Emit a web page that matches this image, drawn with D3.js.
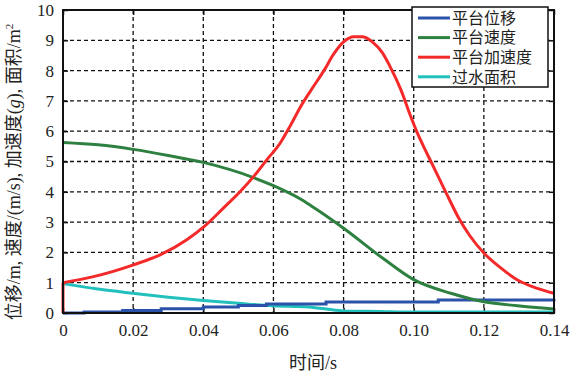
<!DOCTYPE html>
<html>
<head>
<meta charset="utf-8">
<script src="https://cdn.jsdelivr.net/npm/d3@7"></script>
<style>
  body { margin: 0; background: #fff; }
  text { font-family: "Liberation Serif", "Times New Roman", serif; fill: #222; }
  .cjk { font-family: "Liberation Serif", "Times New Roman", "Noto Sans CJK SC", serif; }
</style>
</head>
<body>
<div id="theGraph"></div>
<script>
const width = 571, height = 377,
    margin = {left: 63, top: 10, right: 17, bottom: 64},
    contentWidth = width - margin.left - margin.right,
    contentHeight = height - margin.top - margin.bottom;
const serif = '"Liberation Serif", "Times New Roman", serif';

// data
const xTicks = [0, 0.02, 0.04, 0.06, 0.08, 0.10, 0.12, 0.14];
const xTickLabels = ["0", "0.02", "0.04", "0.06", "0.08", "0.10", "0.12", "0.14"];
const yTicks = [0, 1, 2, 3, 4, 5, 6, 7, 8, 9, 10];

const dispT = [0, 0.006, 0.017, 0.028, 0.04, 0.05, 0.058, 0.075, 0.107, 0.14];
const dispV = [0, 0.03, 0.08, 0.14, 0.2, 0.25, 0.3, 0.36, 0.43, 0.45];

const velT = [0, 0.01, 0.02, 0.03, 0.04, 0.0543, 0.06, 0.0677, 0.0706, 0.08, 0.0915, 0.10, 0.1106, 0.12, 0.1296, 0.14];
const velV = [5.63, 5.55, 5.4, 5.2, 4.97, 4.47, 4.2, 3.76, 3.55, 2.8, 1.78, 1.1, 0.65, 0.37, 0.24, 0.13];

// first two points: the jump at t = 0
const accT = [0, 0, 0.0087, 0.0201, 0.0277, 0.0353, 0.0403, 0.0458, 0.0506, 0.0544, 0.0582, 0.062, 0.0649, 0.0677, 0.0715, 0.0744, 0.0772, 0.08, 0.0829, 0.0853, 0.0882, 0.091, 0.0934, 0.0963, 0.0991, 0.101, 0.103, 0.1049, 0.1091, 0.1129, 0.116, 0.12, 0.1249, 0.1296, 0.135, 0.14];
const accV = [0, 1.0, 1.2, 1.59, 1.92, 2.42, 2.86, 3.47, 4.02, 4.51, 5.07, 5.62, 6.2, 6.8, 7.49, 8.0, 8.55, 8.95, 9.12, 9.12, 8.95, 8.6, 8.1, 7.38, 6.5, 5.95, 5.45, 5.0, 4.0, 3.12, 2.55, 1.98, 1.48, 1.09, 0.82, 0.65];

const areaT = [0, 0.01, 0.02, 0.03, 0.04, 0.05, 0.06, 0.07, 0.08, 0.09, 0.10, 0.14];
const areaV = [0.97, 0.79, 0.65, 0.52, 0.41, 0.32, 0.24, 0.2, 0.07, 0.05, 0.03, 0.03];

const seriesNames = ["平台位移", "平台速度", "平台加速度", "过水面积"];
const seriesColors = ["#2a52a8", "#2e8040", "#f42a2a", "#22c0bc"];

const svg = d3.select("#theGraph").append("svg").attr("width", width).attr("height", height);
const maing = svg.append("g").attr("transform", `translate(${margin.left}, ${margin.top})`);

const xScale = d3.scaleLinear().domain([0, 0.14]).range([0, contentWidth]);
const yScale = d3.scaleLinear().domain([0, 10]).range([contentHeight, 0]);

//grid
maing.selectAll(".vgrid").data(xTicks.slice(1, -1)).enter().append("line")
    .attr("x1", d=>xScale(d)).attr("x2", d=>xScale(d)).attr("y1", 0).attr("y2", contentHeight)
    .attr("stroke", "#111").attr("stroke-width", 1.3).attr("stroke-dasharray", "4,3");
maing.selectAll(".hgrid").data(yTicks.slice(1, -1)).enter().append("line")
    .attr("y1", d=>yScale(d)).attr("y2", d=>yScale(d)).attr("x1", 0).attr("x2", contentWidth)
    .attr("stroke", "#111").attr("stroke-width", 1.3).attr("stroke-dasharray", "4,3");

//axes with inward ticks
const xAxis = maing.append("g").attr("transform", `translate(0, ${contentHeight})`)
    .call(d3.axisBottom(xScale).tickValues(xTicks).tickFormat((d, i)=>xTickLabels[i]).tickSize(-5).tickPadding(11));
const xTop = maing.append("g").call(d3.axisTop(xScale).tickValues(xTicks).tickFormat("").tickSize(-5));
const yAxis = maing.append("g")
    .call(d3.axisLeft(yScale).tickValues(yTicks).tickSize(-5).tickPadding(9));
const yRight = maing.append("g").attr("transform", `translate(${contentWidth}, 0)`)
    .call(d3.axisRight(yScale).tickValues(yTicks).tickFormat("").tickSize(-5));
[xAxis, xTop, yAxis, yRight].forEach(a=>{
    a.attr("font-family", serif);
    a.select(".domain").remove();
    a.selectAll("line").attr("stroke", "#111").attr("stroke-width", 1.5);
    a.selectAll("text").style("font-size", "17px").style("font-family", serif).attr("fill", "#222");
});

//curves
const pts = (ts, vs)=>ts.map((t, i)=>[t, vs[i]]);
const lineOf = curve=>d3.line().x(d=>xScale(d[0])).y(d=>yScale(d[1])).curve(curve);
const paths = [
    {d: pts(areaT, areaV), curve: d3.curveMonotoneX, c: 3},
    {d: pts(dispT, dispV), curve: d3.curveStepAfter, c: 0},
    {d: pts(velT, velV), curve: d3.curveMonotoneX, c: 1},
    {d: pts(accT, accV).slice(0, 2), curve: d3.curveLinear, c: 2},
    {d: pts(accT, accV).slice(1), curve: d3.curveMonotoneX, c: 2}
];
paths.forEach(p=>{
    maing.append("path").datum(p.d).attr("d", lineOf(p.curve))
        .attr("fill", "none").attr("stroke", seriesColors[p.c]).attr("stroke-width", 3);
});

//frame
maing.append("rect").attr("width", contentWidth).attr("height", contentHeight)
    .attr("fill", "none").attr("stroke", "#111").attr("stroke-width", 2);

//legend
const lg = svg.append("g").attr("transform", "translate(412, 7)");
lg.append("rect").attr("width", 136).attr("height", 80).attr("fill", "#fff").attr("stroke", "#111").attr("stroke-width", 1.5);
seriesNames.forEach((name, i)=>{
    const yy = 11 + i * 19.6;
    lg.append("line").attr("x1", 6).attr("x2", 38).attr("y1", yy).attr("y2", yy)
        .attr("stroke", seriesColors[i]).attr("stroke-width", 3);
    lg.append("text").attr("x", 40).attr("y", yy).attr("dy", "0.36em")
        .style("font-size", "16px").style("font-family", "Noto Sans CJK SC").text(name);
});

//axis titles
svg.append("text").attr("class", "cjk").attr("x", 313).attr("y", 363).attr("dy", "0.35em").attr("text-anchor", "middle")
    .style("font-size", "18px").text("时间/s");
svg.append("text").attr("class", "cjk").attr("transform", "translate(14, 172) rotate(-90)").attr("text-anchor", "middle")
    .attr("dy", "0.35em").style("font-size", "18px")
    .html('位移/m, 速度/(m/s), 加速度(<tspan font-style="italic">g</tspan>), 面积/m<tspan dy="-7" font-size="11px">2</tspan>');
</script>
</body>
</html>
